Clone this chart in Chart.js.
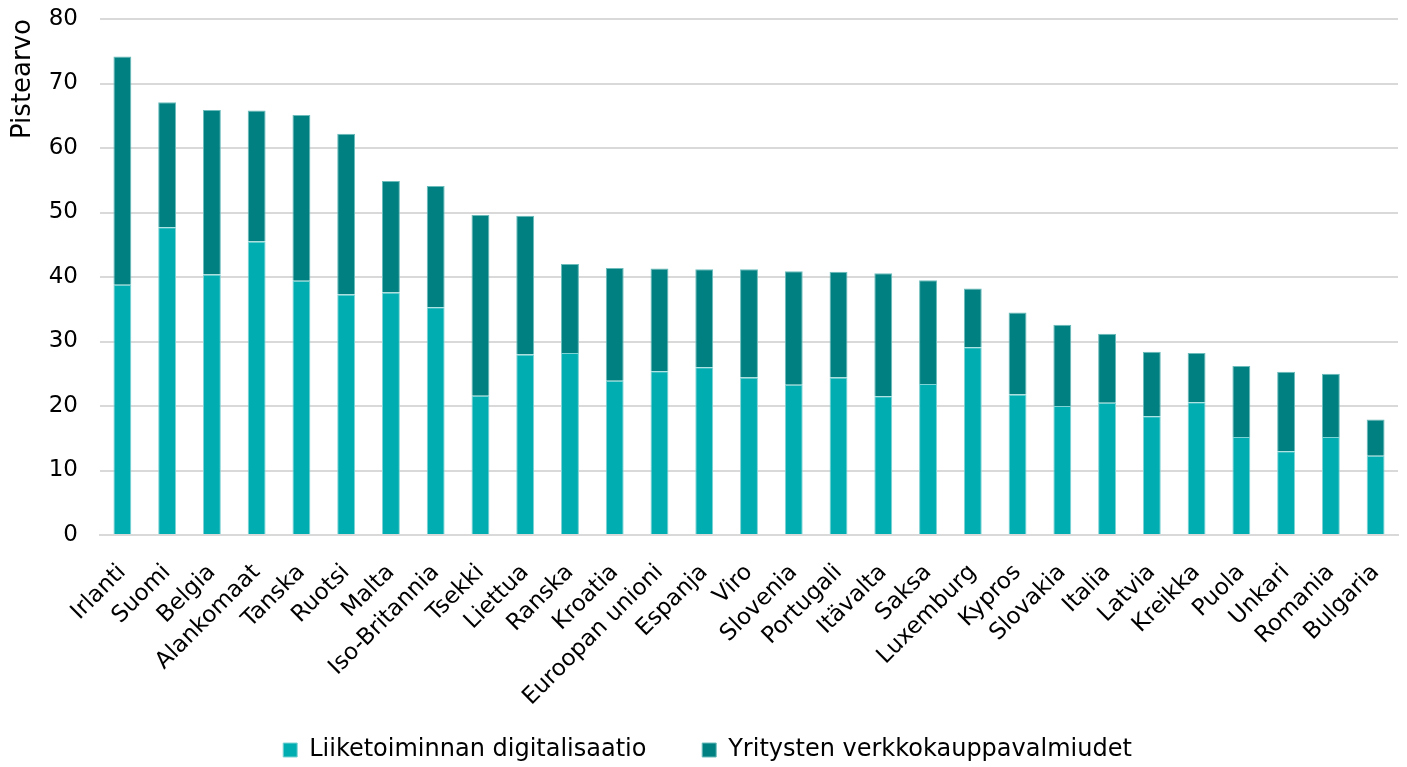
<!DOCTYPE html>
<html>
<head>
<meta charset="utf-8">
<script src="https://cdn.jsdelivr.net/npm/chart.js@4/dist/chart.umd.min.js"></script>
<style>
  html, body { margin: 0; padding: 0; background: #fff; }
  #wrap { width: 1407px; height: 767px; }
</style>
</head>
<body>
<div id="wrap"><canvas id="chart" width="1407" height="767"></canvas></div>
<script>
const categories = ['Irlanti', 'Suomi', 'Belgia', 'Alankomaat', 'Tanska', 'Ruotsi', 'Malta',
  'Iso-Britannia', 'Tsekki', 'Liettua', 'Ranska', 'Kroatia', 'Euroopan unioni', 'Espanja',
  'Viro', 'Slovenia', 'Portugali', 'Itävalta', 'Saksa', 'Luxemburg', 'Kypros', 'Slovakia',
  'Italia', 'Latvia', 'Kreikka', 'Puola', 'Unkari', 'Romania', 'Bulgaria'];

// Liiketoiminnan digitalisaatio (lower part)
const digitalisaatio = [38.8, 47.7, 40.4, 45.5, 39.4, 37.3, 37.6, 35.3, 21.6, 28.0, 28.2, 23.9,
  25.4, 26.0, 24.4, 23.3, 24.4, 21.5, 23.4, 29.1, 21.8, 20.0, 20.5, 18.4, 20.6, 15.2, 13.0, 15.2, 12.3];

// Yritysten verkkokauppavalmiudet (upper part)
const verkkokauppa = [35.4, 19.4, 25.5, 20.3, 25.7, 24.9, 17.3, 18.8, 28.0, 21.5, 13.8, 17.5,
  15.9, 15.2, 16.8, 17.6, 16.4, 19.1, 16.1, 9.1, 12.7, 12.6, 10.7, 10.0, 7.6, 11.0, 12.3, 9.8, 5.6];

const yTicks = [0, 10, 20, 30, 40, 50, 60, 70, 80];

const font = '"DejaVu Sans", sans-serif';

new Chart(document.getElementById('chart').getContext('2d'), {
  type: 'bar',
  data: {
    labels: categories,
    datasets: [{
      label: 'Liiketoiminnan digitalisaatio',
      data: digitalisaatio,
      backgroundColor: '#00adb1',
      borderColor: '#7fd3d5',
      borderWidth: 1,
      barPercentage: 0.8,
      categoryPercentage: 0.5,
    },
    {
      label: 'Yritysten verkkokauppavalmiudet',
      data: verkkokauppa,
      backgroundColor: '#008080',
      borderColor: '#6cbcbc',
      borderWidth: 1,
      barPercentage: 0.8,
      categoryPercentage: 0.5,
    }]
  },
  options: {
    responsive: false,
    animation: false,
    layout: { autoPadding: false, padding: { left: 8, right: 0, top: 0, bottom: -5 } },
    plugins: {
      tooltip: { enabled: false },
      legend: {
        position: 'bottom',
        labels: {
          font: { family: font, size: 24 },
          color: '#000',
          boxWidth: 14,
          boxHeight: 14,
          padding: 10,
          // wider gap between the two legend items, like the original
          generateLabels: chart => {
            const items = Chart.defaults.plugins.legend.labels.generateLabels(chart);
            items[0].text += '\u00a0'.repeat(6);
            return items;
          }
        }
      }
    },
    scales: {
      x: {
        stacked: true,
        afterFit: axis => { axis.height = 193; axis.paddingRight = 9; },
        grid: { display: false },
        border: { color: '#d9d9d9', width: 2 },
        ticks: {
          font: { family: font, size: 23 },
          color: '#000',
          maxRotation: 45,
          minRotation: 45,
          autoSkip: false,
          padding: 16,
        }
      },
      y: {
        stacked: true,
        min: 0,
        max: 80,
        afterFit: axis => { axis.width = 92; axis.paddingTop = 19; },
        afterBuildTicks: axis => { axis.ticks = yTicks.map(v => ({ value: v })); },
        grid: { color: '#d9d9d9', lineWidth: 2, drawTicks: false },
        border: { display: false },
        ticks: {
          font: { family: font, size: 23 },
          color: '#000',
          padding: 22,
        },
        title: {
          display: true,
          text: 'Pistearvo',
          align: 'end',
          font: { family: font, size: 26 },
          color: '#000',
          padding: { top: 0, bottom: 10 },
        }
      }
    }
  }
});
</script>
</body>
</html>
